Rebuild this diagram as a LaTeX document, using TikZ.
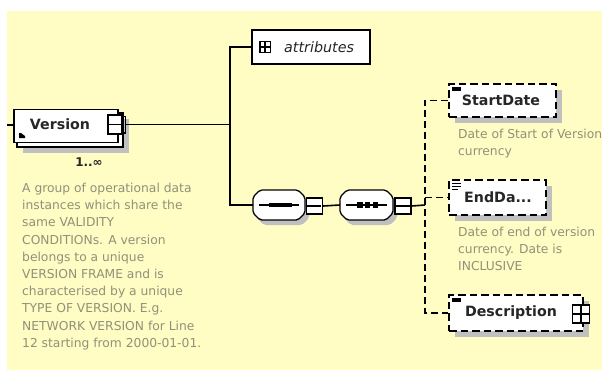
\documentclass[tikz,border=0pt]{standalone}
\usepackage{fontspec}
\setmainfont{DejaVu Sans}
\usetikzlibrary{calc}
\definecolor{bgyellow}{RGB}{255,252,196}
\definecolor{shadowgray}{RGB}{192,192,192}
\definecolor{desctext}{RGB}{145,145,122}
\begin{document}
\begin{tikzpicture}[x=1pt,y=-1pt,line join=miter,
  conn/.style={line width=1.6pt},
  dconn/.style={line width=1.7pt,dash pattern=on 7pt off 4pt},
  boxst/.style={draw,line width=1.6pt,fill=white,inner sep=0pt},
  dboxst/.style={draw,line width=1.7pt,dash pattern=on 7.5pt off 4pt,fill=white,inner sep=0pt},
  shadowst/.style={fill=shadowgray,draw=none,inner sep=0pt},
  holder/.style={inner sep=0pt,draw=none},
  lbl/.style={font=\fontsize{14.2}{16}\selectfont\bfseries,inner sep=0pt,text=black!85},
  desc/.style={font=\fontsize{12.3}{17.2}\selectfont,text=desctext,align=left,inner sep=0pt,anchor=north west},
  expbox/.style={draw,line width=1.4pt,fill=white,inner sep=0pt,minimum width=16pt,minimum height=16pt},
]
\useasboundingbox (0,0) rectangle (602,370);
\fill[bgyellow] (7,11) rectangle (602,370);

% ---------------- Version element ----------------
\node[shadowst,minimum width=106pt,minimum height=34pt] (vshadow) at (76,136) {};
\node[boxst,minimum width=106pt,minimum height=34pt] (vback) at (70,130) {};
\node[boxst,minimum width=104pt,minimum height=33pt] (version) at (66,126) {};
\node[lbl] (versionlbl) at (60,124.5) {Version};
\fill[black] (19,138) -- (19,133) -- (21,133) -- (25,136) -- (25,138) -- cycle;
\node[boxst,minimum width=14pt,minimum height=19pt] (vexp) at (115,124.5) {};
\draw[line width=1.4pt] (vexp.west) -- (vexp.east);
\draw[line width=1.4pt] ($(vexp.north east)+(0,2)$) -- ++(2.5,0) -- ($(vexp.south east)+(2.5,-2)$) -- ++(-2.5,0);
\node[font=\fontsize{12}{13}\selectfont\bfseries,inner sep=0pt,text=black!85] (vcard) at (89,162) {1..∞};

% ---------------- attributes ----------------
\node[boxst,minimum width=118pt,minimum height=34pt] (attr) at (311,47) {};
\node[draw,line width=1.3pt,fill=white,inner sep=0pt,minimum width=11pt,minimum height=11pt] (attricon) at (265,47) {};
\fill[black] (attricon.north west) rectangle ($(attricon.south west)+(2.5,0)$);
\draw[line width=1.2pt] ($(attricon.north)$) -- (attricon.south);
\draw[line width=1.2pt] (attricon.west) -- (attricon.east);
\node[font=\fontsize{14.3}{16}\selectfont\itshape,inner sep=0pt,anchor=west,text=black!85] (attrlbl) at (284,47) {attributes};

% ---------------- compositors ----------------
\node[holder,minimum width=52pt,minimum height=30pt] (seq1) at (279,205) {};
\fill[shadowgray,rounded corners=2pt] (264,195)--(302,195)--(309,202)--(309,218)--(302,225)--(264,225)--(257,218)--(257,202)--cycle;
\draw[line width=1.3pt,fill=white,rounded corners=2pt] (260,190)--(298,190)--(305,197)--(305,213)--(298,220)--(260,220)--(253,213)--(253,197)--cycle;
\draw[line width=1.4pt] (259,205) -- (299,205);
\draw[line width=4.5pt] (269,205) -- (292,205);
\node[expbox] (seq1x) at (314.5,206) {};
\draw[line width=1.3pt] (seq1x.west) -- ($(seq1x.east)+(-2,0)$);

\node[holder,minimum width=53pt,minimum height=30pt] (seq2) at (366.5,205) {};
\fill[shadowgray,rounded corners=2pt] (351,195)--(390,195)--(397,202)--(397,218)--(390,225)--(351,225)--(344,218)--(344,202)--cycle;
\draw[line width=1.3pt,fill=white,rounded corners=2pt] (347,190)--(386,190)--(393,197)--(393,213)--(386,220)--(347,220)--(340,213)--(340,197)--cycle;
\draw[line width=1.4pt] (346,205) -- (387,205);
\fill[black] (357,202) rectangle (362.5,208);
\fill[black] (364.75,202) rectangle (370.25,208);
\fill[black] (372.5,202) rectangle (378,208);
\node[expbox] (seq2x) at (403,206) {};
\draw[line width=1.3pt] (seq2x.west) -- ($(seq2x.east)+(-2,0)$);

% ---------------- child elements ----------------
\node[shadowst,minimum width=107pt,minimum height=33pt] (sdshadow) at (508.5,106.5) {};
\node[dboxst,minimum width=107pt,minimum height=33pt] (startdate) at (502.5,100.5) {};
\fill[black] (452,87) rectangle (461,91);
\node[lbl] (startdatelbl) at (501,100) {StartDate};
\node[desc] (startdatedesc) at (458,129) {Date of Start of Version\\currency};

\node[shadowst,minimum width=97pt,minimum height=35pt] (edshadow) at (503.5,203.5) {};
\node[dboxst,minimum width=97pt,minimum height=35pt] (enddate) at (497.5,197.5) {};
\draw[line width=1.1pt] (452,183.5) -- (461,183.5) (452,186.5) -- (461,186.5) (452,189.5) -- (458,189.5);
\node[lbl] (enddatelbl) at (498,197.5) {EndDa...};
\node[desc] (enddatedesc) at (458,227) {Date of end of version\\currency. Date is\\INCLUSIVE};

\node[shadowst,minimum width=134pt,minimum height=36pt] (dsshadow) at (522,319) {};
\node[dboxst,minimum width=134pt,minimum height=36pt] (description) at (516,313) {};
\fill[black] (452,298) rectangle (461,302);
\node[lbl] (descriptionlbl) at (511,313) {Description};
\node[draw,line width=1.4pt,fill=white,inner sep=0pt,minimum width=17pt,minimum height=18pt] (descicon) at (581,314) {};
\draw[line width=1.2pt] (descicon.north) -- (descicon.south);
\draw[line width=1.2pt] (descicon.west) -- (descicon.east);

% ---------------- Version description ----------------
\node[desc] (versiondesc) at (22,183) {A group of operational data\\instances which share the\\same VALIDITY\\CONDITIONs. A version\\belongs to a unique\\VERSION FRAME and is\\characterised by a unique\\TYPE OF VERSION. E.g.\\NETWORK VERSION for Line\\12 starting from 2000-01-01.};

% ---------------- connectors ----------------
\coordinate (vin) at (7,125);
\coordinate (jt) at (230,47);
\coordinate (jm) at (230,124.5);
\coordinate (jb) at (230,205);
\coordinate (jd) at (425,205);
\coordinate (dtop) at (425,100.5);
\coordinate (dmid) at (425,197.5);
\coordinate (dbot) at (425,313);
\draw[conn] (vin) -- (version.west |- vin);
\draw[conn] ($(vexp.east)+(2.5,0)$) -- (jm);
\draw[conn] (attr.west) -- (jt) -- (jb) -- (seq1.west);
\draw[conn] (seq1x.east) -- (seq2.west);
\draw[conn] (seq2x.east) -- (jd);
\draw[dconn] (startdate.west) -- (dtop) -- (dbot) -- (description.west);
\draw[dconn] (dmid) -- (enddate.west);
\end{tikzpicture}
\end{document}
